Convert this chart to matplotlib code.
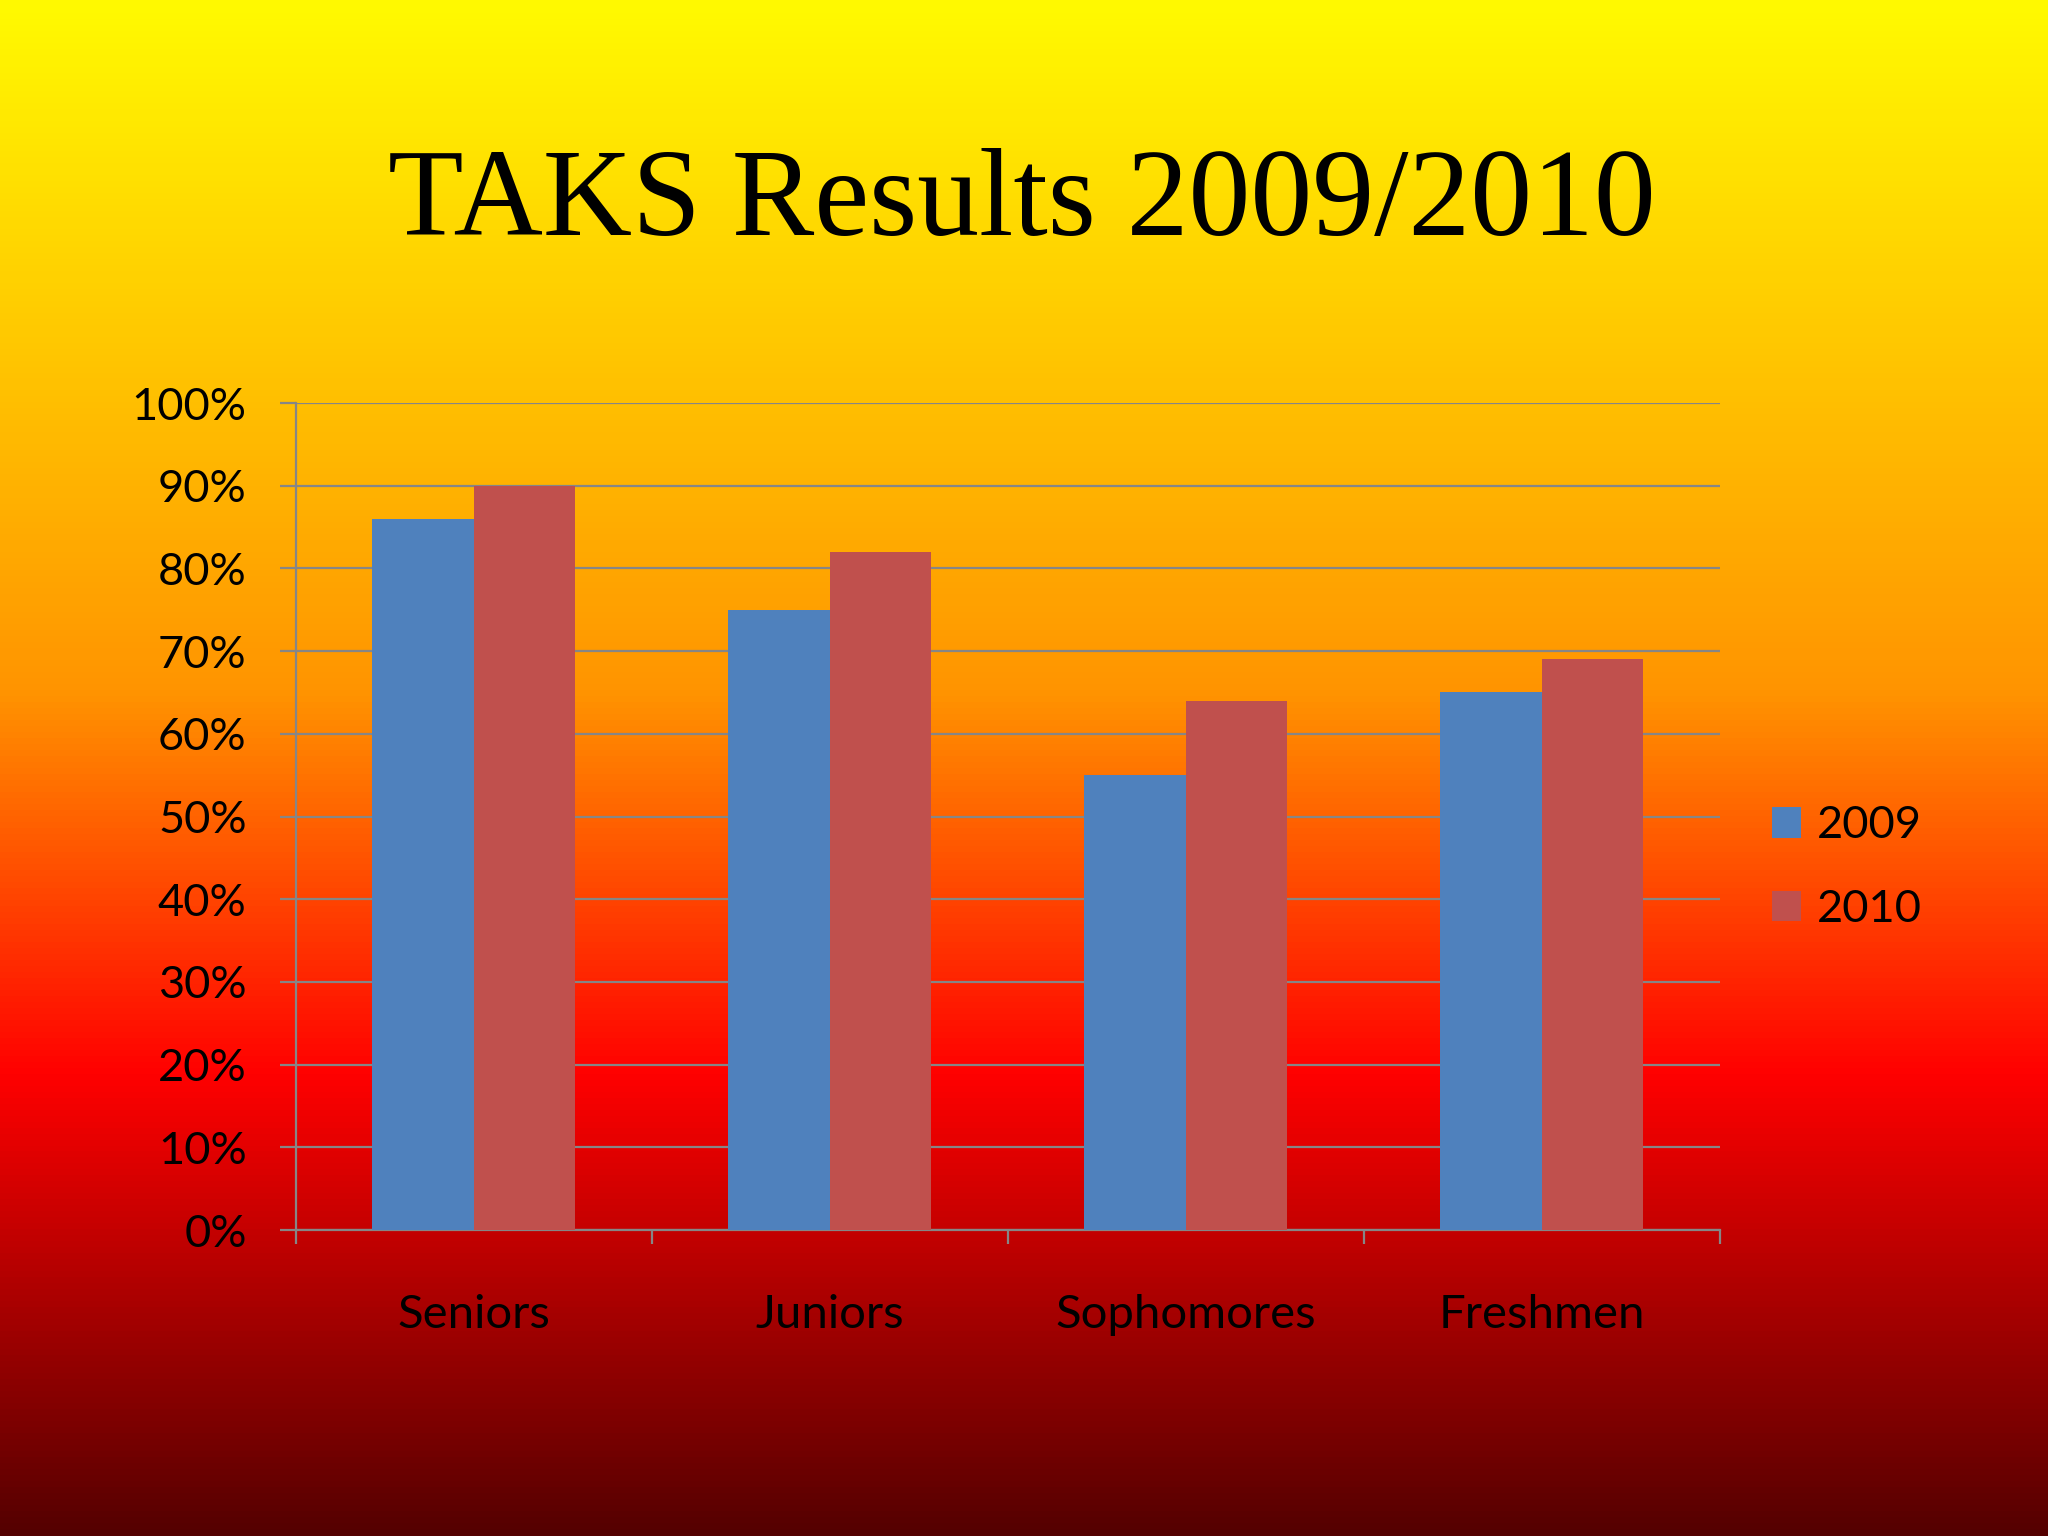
import numpy as np
import matplotlib
matplotlib.use("Agg")
import matplotlib.pyplot as plt
from matplotlib.colors import LinearSegmentedColormap
from matplotlib.ticker import FuncFormatter, FixedLocator

# data
categories = ["Seniors", "Juniors", "Sophomores", "Freshmen"]
series_names = ["2009", "2010"]
values_2009 = [0.86, 0.75, 0.55, 0.65]
values_2010 = [0.90, 0.82, 0.64, 0.69]
title = "TAKS Results 2009/2010"

BLUE = "#4F81BD"
RED = "#C0504D"
GRAY = "#868686"
LABEL_FONT = ["Lato", "DejaVu Sans"]

fig = plt.figure(figsize=(20.48, 15.36), dpi=100)

# slide background gradient yellow -> orange -> red -> dark red
bg = fig.add_axes([0, 0, 1, 1], zorder=0)
grad_cmap = LinearSegmentedColormap.from_list(
    "slide",
    [(0.0, (1.0, 0.98, 0.0)),
     (0.45, (1.0, 0.58, 0.0)),
     (0.70, (1.0, 0.0, 0.0)),
     (1.0, (0.33, 0.0, 0.0))])
bg.imshow(np.linspace(0, 1, 512).reshape(-1, 1), aspect="auto", cmap=grad_cmap,
          extent=[0, 1, 0, 1], origin="upper")
bg.set_axis_off()

fig.text(0.499, 0.847, title, ha="center", va="baseline",
         fontsize=89, family=["Liberation Serif", "DejaVu Serif"], color="black")

ax = fig.add_axes([0.1445, 0.1992, 0.6953, 0.5384], zorder=1)
ax.set_facecolor("none")

x = np.arange(len(categories))
w = 0.285
ax.bar(x - w / 2, values_2009, w, color=BLUE, label=series_names[0], zorder=3)
ax.bar(x + w / 2, values_2010, w, color=RED, label=series_names[1], zorder=3)

ax.set_xlim(-0.5, len(categories) - 0.5)
ax.set_ylim(0, 1.0)
ax.set_yticks(np.arange(0, 1.01, 0.1))
ax.yaxis.set_major_formatter(FuncFormatter(lambda v, p: "%d%%" % round(v * 100)))
ax.set_xticks(x)
ax.set_xticklabels(categories)
ax.xaxis.set_minor_locator(FixedLocator(np.arange(-0.5, len(categories), 1.0)))

ax.grid(axis="y", color=GRAY, linewidth=1.6, zorder=1)
for s in ["top", "right"]:
    ax.spines[s].set_visible(False)
for s in ["left", "bottom"]:
    ax.spines[s].set_color(GRAY)
    ax.spines[s].set_linewidth(1.6)

ax.tick_params(axis="y", length=11.5, width=1.6, color=GRAY, pad=24,
               labelsize=32.5, labelcolor="black")
ax.tick_params(axis="x", which="major", length=0, pad=46,
               labelsize=34, labelcolor="black")
ax.tick_params(axis="x", which="minor", length=10, width=1.6, color=GRAY)
for lab in ax.get_xticklabels() + ax.get_yticklabels():
    lab.set_family(LABEL_FONT)

leg = ax.legend(loc="center left", bbox_to_anchor=(1772 / 2048, 0.435),
                bbox_transform=fig.transFigure, frameon=False,
                prop={"family": LABEL_FONT, "size": 32.5},
                handlelength=0.65, handleheight=0.65, handletextpad=0.35,
                labelspacing=0.95, borderpad=0, borderaxespad=0)

fig.savefig("out.png", dpi=100)
